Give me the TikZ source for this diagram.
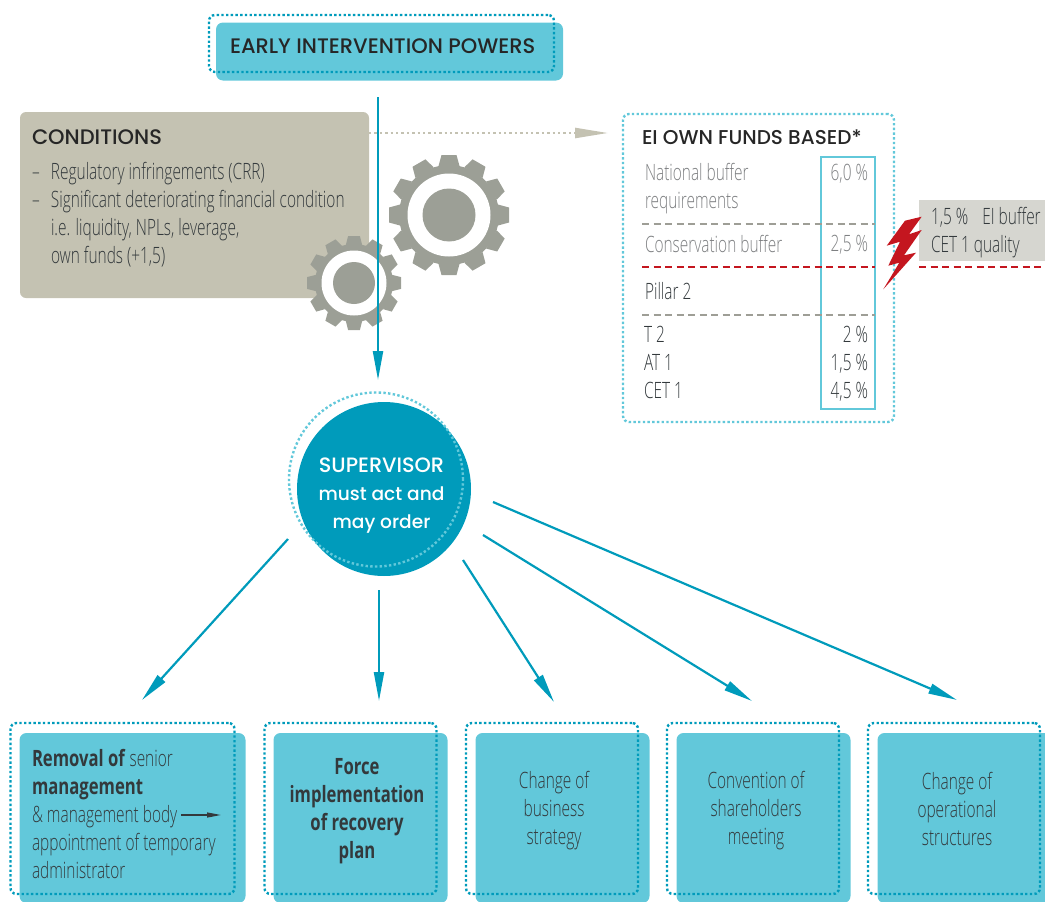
\documentclass[tikz,border=0pt]{standalone}
\usepackage{fontspec}
\setmainfont{Open Sans}[FakeStretch=0.685,UprightFont=* Light,BoldFont=* Bold,BoldFeatures={FakeStretch=0.74}]
\newfontfamily\headfont{Poppins}[UprightFont=* Medium]
\usetikzlibrary{arrows.meta, positioning}
\definecolor{tealfill}{HTML}{62C8DA}
\definecolor{tealdark}{HTML}{009BBB}
\definecolor{sandfill}{HTML}{C4C2B2}
\definecolor{gearcol}{HTML}{9C9F96}
\definecolor{greybox}{HTML}{D6D6D0}
\definecolor{linegrey}{HTML}{9E9E96}
\definecolor{redbolt}{HTML}{C4161F}
\definecolor{inkdark}{HTML}{33393C}
\definecolor{inkgrey}{HTML}{7E8082}

\tikzset{
	every node/.style = {inner sep=0pt, outer sep=0pt, text=inkdark},
	bodytxt/.style = {font=\fontsize{22.5}{28}\selectfont, align=left},
	headtxt/.style = {font=\headfont\fontsize{21}{24}\selectfont, text=black!85},
	tealbox/.style = {fill=tealfill, rounded corners=7pt, minimum height=170pt},
	dotbox/.style = {draw=tealdark, line width=2.4pt, dash pattern=on 2.4pt off 2.3pt, rounded corners=6pt},
	dotlight/.style = {draw=tealfill, line width=2.4pt, dash pattern=on 2.4pt off 2.3pt, rounded corners=6pt},
	bluearrow/.style = {draw=tealdark, line width=2.2pt, -{Triangle[length=29pt,width=10pt]}},
	splitgrey/.style = {draw=linegrey, line width=2.4pt, dash pattern=on 7pt off 4.5pt},
	splitred/.style = {draw=redbolt, line width=2.4pt, dash pattern=on 7pt off 4.5pt},
}

% x y outer root ring disc
\newcommand{\drawgear}[6]{
	\fill[gearcol] (#1,#2) circle (#4pt);
	\foreach \ang in {0,30,...,330}
		\fill[gearcol, shift={(#1,#2)}, rotate=\ang]
			(#4-1,-#4*0.21) -- (#3,-#3*0.125) -- (#3,#3*0.125) -- (#4-1,#4*0.21) -- cycle;
	\fill[white] (#1,#2) circle (#5pt);
	\fill[gearcol] (#1,#2) circle (#6pt);
}

\begin{document}
\begin{tikzpicture}[x=1pt, y=-1pt]
	\useasboundingbox (0,0) rectangle (1045,902);

	% top box
	\node (powers) [fill=tealfill, rounded corners=7pt, minimum width=347pt, minimum height=58pt,
		anchor=north west] at (216,22.5) {};
	\node (powersdots) [dotbox, minimum width=345pt, minimum height=57pt, anchor=north west] at (209,15) {};
	\node (powerstxt) [headtxt, anchor=west] at (230,46) {EARLY INTERVENTION POWERS};

	% conditions
	\node (conditions) [fill=sandfill, rounded corners=6pt, minimum width=349pt, minimum height=186pt,
		anchor=north west] at (20,112) {};
	\node (conditionstxt) [headtxt, anchor=west] at (32,137) {CONDITIONS};
	\node (conditionslist) [bodytxt, anchor=north west] at (32,162) {
		\makebox[19pt][l]{--}Regulatory infringements (CRR)\\
		\makebox[19pt][l]{--}Significant deteriorating financial condition\\
		\hspace*{19pt}i.e. liquidity, NPLs, leverage,\\
		\hspace*{19pt}own funds (+1,5)};

	% own funds
	\node (funds) [dotlight, minimum width=271pt, minimum height=308pt, anchor=north west] at (623,114) {};
	\node (fundstxt) [headtxt, font=\headfont\fontsize{20}{24}\selectfont, anchor=west] at (642,137) {EI OWN FUNDS BASED*};
	\node (fundscol) [draw=tealfill, line width=1.2pt, minimum width=54pt, minimum height=252pt, anchor=north west] at (821,157) {};

	\node (national) [bodytxt, text=inkgrey, anchor=north west] at (645,163) {National buffer\\requirements};
	\node (conservation) [bodytxt, text=inkgrey, anchor=west] at (645,244) {Conservation buffer};
	\node (pillar) [bodytxt, anchor=west] at (645,291) {Pillar 2};
	\node (tiers) [bodytxt, anchor=north west] at (644,326) {T 2\\AT 1\\CET 1};

	\node (nationalpc) [bodytxt, text=inkgrey, anchor=east] at (868,173.5) {6,0 \%};
	\node (conservationpc) [bodytxt, text=inkgrey, anchor=east] at (868,245) {2,5 \%};
	\node (tierspc) [bodytxt, align=right, anchor=north east] at (868,326) {2 \%\\1,5 \%\\4,5 \%};

	\coordinate (split1a) at (642,224);  \coordinate (split1b) at (875,224);
	\coordinate (split2a) at (642,267);  \coordinate (split2b) at (875,267);
	\coordinate (split3a) at (642,315);  \coordinate (split3b) at (875,315);
	\coordinate (split4a) at (919,267);  \coordinate (split4b) at (1045,267);
	\draw[splitgrey] (split1a) -- (split1b);
	\draw[splitred] (split2a) -- (split2b);
	\draw[splitgrey] (split3a) -- (split3b);
	\draw[splitred] (split4a) -- (split4b);

	% buffer note and bolt
	\node (buffer) [fill=greybox, minimum width=126pt, minimum height=61pt, anchor=north west] at (919,200) {};
	\node (buffertxt) [bodytxt, anchor=west] at (931,232.5) {1,5 \%\hspace{14pt}EI buffer\\CET 1 quality};
	\fill[redbolt] (921.7,216.7) -- (905,220.7) -- (886.7,245.7) -- (900,241.7) -- (888.3,265.7) -- (899.3,262.7)
		-- (883.3,289.3) -- (916,252.7) -- (904,255.3) -- (921.7,230) -- (909,234.3) -- cycle;

	% gears
	\drawgear{449}{215}{60}{50}{41.5}{26.5}
	\drawgear{354}{283}{47}{39}{32.5}{21}

	% grey link
	\coordinate (linka) at (369,133);
	\coordinate (linkb) at (608,133);
	\draw[draw=sandfill, line width=2.4pt, dash pattern=on 2.4pt off 3pt,
		-{Triangle[length=33pt,width=10pt,fill=sandfill]}] (linka) -- (linkb);

	% supervisor
	\node (supervisor) [circle, fill=tealdark, minimum size=174pt] at (384,489) {};
	\node (supervisordots) [circle, dotlight, minimum size=174pt] at (376,479.5) {};
	\node (supervisortxt) [font=\headfont\fontsize{18.6}{28}\selectfont, text=white, align=center] at (381.5,496)
		{\fontsize{20.8}{28}\selectfont SUPERVISOR\\must act and\\may order};

	% measures
	\node (removal) [tealbox, minimum width=226pt, anchor=north west] at (19.5,733) {};
	\node (force) [tealbox, minimum width=174pt, right=28pt of removal] {};
	\node (business) [tealbox, minimum width=174pt, right=28pt of force] {};
	\node (convention) [tealbox, minimum width=174pt, right=27pt of business] {};
	\node (operational) [tealbox, minimum width=174pt, right=27pt of convention] {};

	\foreach \name/\xpos/\wide in {removaldots/10.5/224, forcedots/264.5/172, businessdots/466/172,
		conventiondots/667/172, operationaldots/868/172}
		\node (\name) [dotbox, minimum width=\wide pt, minimum height=171pt, anchor=north west] at (\xpos,723) {};

	\node (removaltxt) [bodytxt, anchor=north west] at (32,749) {
		\textbf{Removal of} senior\\
		\textbf{management}\\
		\& management body\\
		appointment of temporary\\
		administrator};
	\node (forcetxt) [bodytxt, align=center] at (357,811) {\textbf{Force}\\\textbf{implementation}\\\textbf{of recovery}\\\textbf{plan}};
	\node (businesstxt) [bodytxt, align=center] at (554,811) {Change of\\business\\strategy};
	\node (conventiontxt) [bodytxt, align=center] at (756,811) {Convention of\\shareholders\\meeting};
	\node (operationaltxt) [bodytxt, align=center] at (957,809) {Change of\\operational\\structures};

	\coordinate (bodya) at (181,815);
	\coordinate (bodyb) at (221,815);
	\draw[draw=inkdark, line width=1.2pt, -{Triangle[length=14pt,width=5pt]}] (bodya) -- (bodyb);

	% arrows
	\coordinate (powersout) at (378,97);
	\coordinate (supervisorin) at (378,380);
	\coordinate (out1) at (288,539);  \coordinate (in1) at (142,700);
	\coordinate (out2) at (379,590);  \coordinate (in2) at (379,701);
	\coordinate (out3) at (463,560);  \coordinate (in3) at (554,702);
	\coordinate (out4) at (483,535);  \coordinate (in4) at (752,701);
	\coordinate (out5) at (493,502);  \coordinate (in5) at (957,700);
	\draw[bluearrow] (powersout) -- (supervisorin);
	\draw[bluearrow] (out1) -- (in1);
	\draw[bluearrow] (out2) -- (in2);
	\draw[bluearrow] (out3) -- (in3);
	\draw[bluearrow] (out4) -- (in4);
	\draw[bluearrow] (out5) -- (in5);
\end{tikzpicture}
\end{document}
